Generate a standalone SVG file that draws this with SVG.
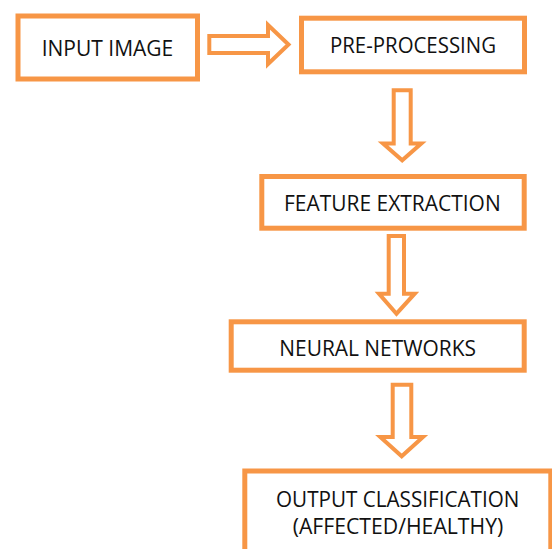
<svg xmlns="http://www.w3.org/2000/svg" width="552" height="549" viewBox="0 0 552 549">
<style>
.box{fill:#fff;stroke:#F79646;stroke-width:5}
.arr{fill:#fff;stroke:#F79646;stroke-width:4;stroke-linejoin:miter}
.t{font-family:"Open Sans","Noto Sans","Liberation Sans",sans-serif;font-size:21px;fill:#111}
</style>
<rect width="552" height="549" fill="#fff"/>
<g id="connectors">
<path class="arr" d="M209.3,36 H268 V25 L288.5,44.5 L268,64 V53 H209.3 Z"/>
<path class="arr" d="M393.7,90.3 H410.7 V143.5 H421.3 L402.2,160.3 L383,143.5 H393.7 Z"/>
<path class="arr" d="M388.7,236 H404 V293.7 H414.7 L396.5,313.7 L379,293.7 H388.7 Z"/>
<path class="arr" d="M392.7,384.7 H411.3 V437 H423 L401.7,456.3 L380.3,437 H392.7 Z"/>
</g>
<g id="input-image">
<rect class="box" x="18" y="16" width="179.5" height="63"/>
<text class="t" x="41.7" y="56" textLength="131.6" lengthAdjust="spacingAndGlyphs">INPUT IMAGE</text>
</g>
<g id="pre-processing">
<rect class="box" x="301.5" y="18.2" width="223" height="53.6"/>
<text class="t" x="330" y="53.3" textLength="166" lengthAdjust="spacingAndGlyphs">PRE-PROCESSING</text>
</g>
<g id="feature-extraction">
<rect class="box" x="261.8" y="176.5" width="262.4" height="51.7"/>
<text class="t" x="284" y="210.7" textLength="216.7" lengthAdjust="spacingAndGlyphs">FEATURE EXTRACTION</text>
</g>
<g id="neural-networks">
<rect class="box" x="231.2" y="321.8" width="293" height="48.4"/>
<text class="t" x="279.3" y="356" textLength="196.7" lengthAdjust="spacingAndGlyphs">NEURAL NETWORKS</text>
</g>
<g id="output-classification">
<rect class="box" x="244.8" y="471" width="306" height="100"/>
<text class="t" x="276" y="507.3" textLength="243.3" lengthAdjust="spacingAndGlyphs">OUTPUT CLASSIFICATION</text>
<text class="t" x="292.7" y="534" textLength="210.6" lengthAdjust="spacingAndGlyphs">(AFFECTED/HEALTHY)</text>
</g>
</svg>
